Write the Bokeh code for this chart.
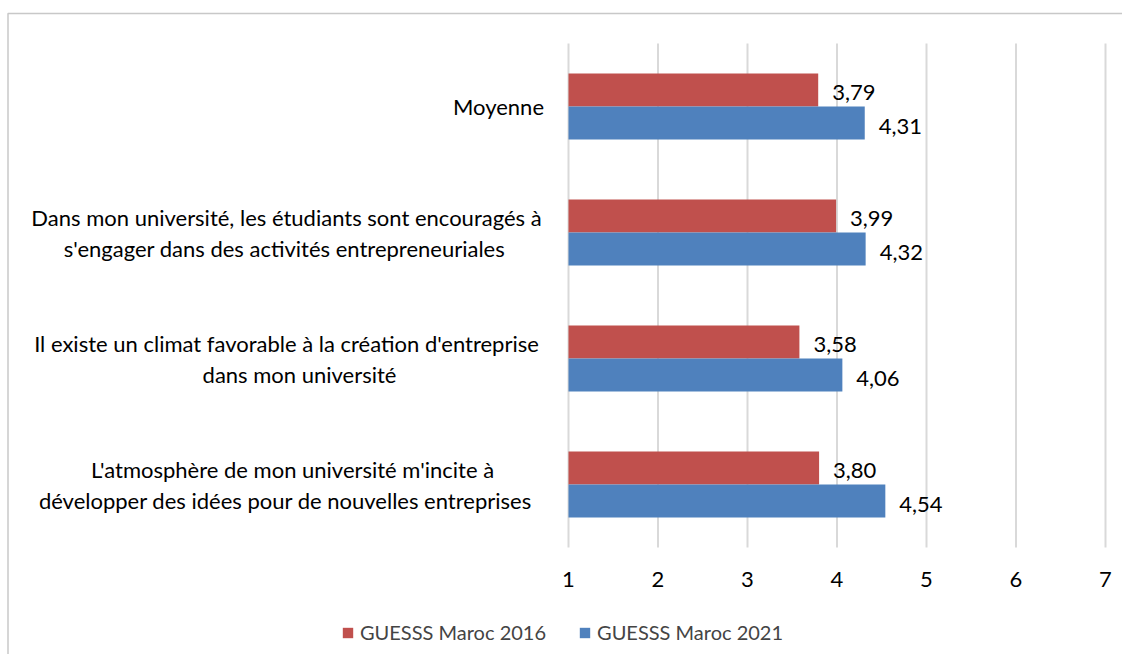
from bokeh.plotting import figure
from bokeh.models import (ColumnDataSource, LabelSet, Legend, LegendItem,
                          BoxAnnotation, Range1d)
from bokeh.core.properties import value
from bokeh.embed import file_html
from bokeh.resources import INLINE

# ---------------- data ----------------
categories = [
    "L'atmosphère de mon université m'incite à\ndévelopper des idées pour de nouvelles entreprises",
    "Il existe un climat favorable à la création d'entreprise\ndans mon université",
    "Dans mon université, les étudiants sont encouragés à\ns'engager dans des activités entrepreneuriales",
    "Moyenne",
]
maroc_2016 = [3.80, 3.58, 3.99, 3.79]
maroc_2021 = [4.54, 4.06, 4.32, 4.31]
series_names = ["GUESSS Maroc 2016", "GUESSS Maroc 2021"]
x_ticks = [1, 2, 3, 4, 5, 6, 7]

# ---------------- layout / style ----------------
W, H = 1122, 654
FONT = "Lato"
RED = "#C0504D"
BLUE = "#4F81BD"
PLOT_L, PLOT_R = 568, 1105          # px of first / last tick
PLOT_T, PLOT_B = 43, 547            # px of plot area top / bottom
# px offset of each label line's centre from the axis start (per category, per line)
line_center_offsets = [[-276, -283], [-282, -269], [-282, -284], [-70]]
LINE_GAP = 31                        # px between wrapped label lines
BAR_H = 0.262
DODGE = 0.131

n = len(categories)
px_x = (PLOT_R - PLOT_L) / (x_ticks[-1] - x_ticks[0])
px_y = (PLOT_B - PLOT_T) / n
x_start = x_ticks[0] - PLOT_L / px_x
x_end = x_ticks[0] + (W - PLOT_L) / px_x
y_start = -(H - PLOT_B) / px_y
y_end = n + PLOT_T / px_y

def fmt(v):
    return f"{v:.2f}".replace(".", ",")

pos = [i + 0.5 for i in range(n)]
src = ColumnDataSource(dict(
    cat=categories,
    pos=pos,
    y16=[y + DODGE for y in pos],
    y21=[y - DODGE for y in pos],
    v16=maroc_2016,
    v21=maroc_2021,
    t16=[fmt(v) for v in maroc_2016],
    t21=[fmt(v) for v in maroc_2021],
    base=[x_ticks[0]] * n,
))

# one row per wrapped line of each category label
lx, ly, lt, lxo, lyo = [], [], [], [], []
for c, y, offs in zip(categories, pos, line_center_offsets):
    lines = c.split("\n")
    k = len(lines)
    for j, (ln, xo) in enumerate(zip(lines, offs)):
        lx.append(x_ticks[0]); ly.append(y); lt.append(ln); lxo.append(xo)
        lyo.append(((k - 1) / 2 - j) * LINE_GAP)
lab_src = ColumnDataSource(dict(x=lx, y=ly, t=lt, xo=lxo, yo=lyo))

tick_src = ColumnDataSource(dict(
    x=x_ticks, y0=[0] * len(x_ticks), y1=[n] * len(x_ticks),
    t=[str(t) for t in x_ticks]))

p = figure(width=W, height=H, output_backend="svg", toolbar_location=None,
           x_range=Range1d(x_start, x_end), y_range=Range1d(y_start, y_end),
           min_border=0, x_axis_type=None, y_axis_type=None)
p.outline_line_color = None
p.background_fill_color = "white"
p.border_fill_color = "white"
p.grid.visible = False

# vertical gridlines
p.segment(x0="x", x1="x", y0="y0", y1="y1", source=tick_src,
          line_color="#D9D9D9", line_width=2)

r16 = p.hbar(y="y16", left="base", right="v16", height=BAR_H, source=src,
             fill_color=RED, line_color=None)
r21 = p.hbar(y="y21", left="base", right="v21", height=BAR_H, source=src,
             fill_color=BLUE, line_color=None)

# x tick labels
p.add_layout(LabelSet(x="x", y="y0", text="t", source=tick_src, y_offset=-32,
                      text_align="center", text_baseline="middle",
                      text_font=value(FONT), text_font_size="22px",
                      text_color="#000000"))

# value labels
for fld, txt, yf in (("v16", "t16", "y16"), ("v21", "t21", "y21")):
    p.add_layout(LabelSet(x=fld, y=yf, text=txt, source=src,
                          x_offset=14, y_offset=-3,
                          text_align="left", text_baseline="middle",
                          text_font=value(FONT), text_font_size="22px",
                          text_color="#000000"))

# category labels (each line centred)
p.add_layout(LabelSet(x="x", y="y", text="t", source=lab_src,
                      x_offset="xo", y_offset="yo",
                      text_align="center", text_baseline="middle",
                      text_font=value(FONT), text_font_size="22px",
                      text_color="#000000"))

# legend
legend = Legend(items=[LegendItem(label=series_names[0], renderers=[r16]),
                       LegendItem(label=series_names[1], renderers=[r21])],
                orientation="horizontal", location=(341, H - 644),
                label_text_font=FONT, label_text_font_size="20px",
                glyph_width=13, glyph_height=13, label_standoff=6, spacing=32,
                padding=0, margin=0, border_line_color=None,
                background_fill_alpha=0)
p.add_layout(legend, "center")

# outer chart border (top and left edges visible)
p.add_layout(BoxAnnotation(left=x_start + 7.5 / px_x, right=x_end + 1,
                           top=y_end - 13 / px_y, bottom=y_start - 1,
                           fill_alpha=0, line_color="#4a4a4a", line_width=1.5))

open("out.html", "w").write(file_html(p, INLINE))
